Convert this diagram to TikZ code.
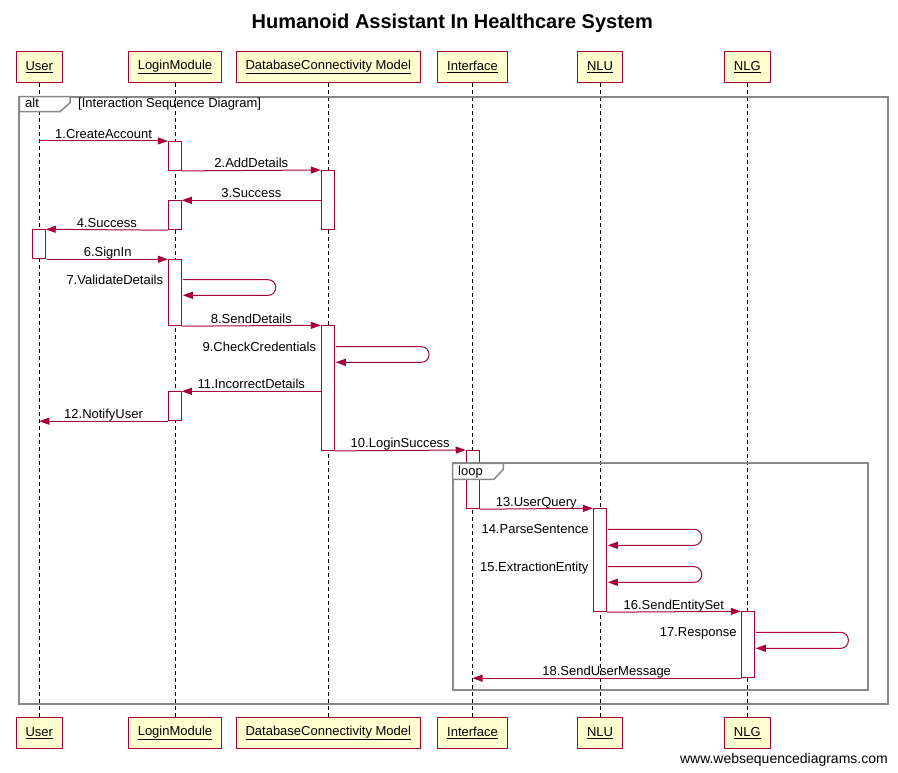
\documentclass[tikz,border=0pt]{standalone}
\usepackage{fontspec}
\setmainfont{Liberation Sans}
\usetikzlibrary{arrows.meta}
\definecolor{crim}{RGB}{168,0,54}
\definecolor{pfill}{RGB}{254,254,206}
\definecolor{frm}{RGB}{136,136,136}
\newcommand{\lf}{\fontsize{13}{15}\selectfont}
\begin{document}
\begin{tikzpicture}[x=1pt,y=-1pt,
 part/.style={draw=crim, fill=pfill, line width=0.9pt, minimum height=31pt, inner sep=0pt, font=\lf},
 act/.style={draw=crim, fill=white, line width=0.9pt, minimum width=13pt, inner sep=0pt, anchor=north},
 life/.style={black, line width=0.8pt, dash pattern=on 4pt off 3pt},
 msg/.style={crim, line width=1pt, -{Triangle[length=10pt,width=7pt]}},
 lbl/.style={anchor=base, yshift=2.7pt, font=\lf, text=black, inner sep=0pt},
 slbl/.style={anchor=base east, font=\lf, text=black, inner sep=0pt},
 frame/.style={draw=frm, line width=1.8pt},
 tab/.style={draw=frm, fill=white, line width=1.5pt},
 ftxt/.style={anchor=base west, font=\lf, inner sep=0pt}]
\path[use as bounding box] (0,0) rectangle (898,773);

% title
\node[anchor=base, font=\bfseries\fontsize{20}{24}\selectfont, inner sep=0pt] (title) at (452.3,28.3) {Humanoid Assistant In Healthcare System};

% participants
\node[part, minimum width=46pt]  (tU)  at (39.3,67.2)  {\underline{User}};
\node[part, minimum width=93.4pt] (tL) at (175,67.2)   {\underline{LoginModule}};
\node[part, minimum width=184pt] (tD)  at (328.3,67.2) {\underline{DatabaseConnectivity Model}};
\node[part, minimum width=70pt]  (tI)  at (472.5,67.2) {\underline{Interface}};
\node[part, minimum width=45pt]  (tNu) at (600,67.2)   {\underline{NLU}};
\node[part, minimum width=46pt]  (tNg) at (747.3,67.2) {\underline{NLG}};

\node[part, minimum width=46pt]  (bU)  at (39.3,732.8)  {\underline{User}};
\node[part, minimum width=93.4pt] (bL) at (175,732.8)   {\underline{LoginModule}};
\node[part, minimum width=184pt] (bD)  at (328.3,732.8) {\underline{DatabaseConnectivity Model}};
\node[part, minimum width=70pt]  (bI)  at (472.5,732.8) {\underline{Interface}};
\node[part, minimum width=45pt]  (bNu) at (600,732.8)   {\underline{NLU}};
\node[part, minimum width=46pt]  (bNg) at (747.3,732.8) {\underline{NLG}};

% lifelines
\draw[life] (tU) -- (bU);
\draw[life] (tL) -- (bL);
\draw[life] (tD) -- (bD);
\draw[life] (tI) -- (bI);
\draw[life] (tNu) -- (bNu);
\draw[life] (tNg) -- (bNg);

% activations
\node[act, minimum height=29pt] (aU1) at (38.8,229.3) {};
\node[act, minimum height=29pt] (aL1) at (174.8,141) {};
\node[act, minimum height=29pt] (aL2) at (174.8,200.3) {};
\node[act, minimum height=66pt] (aL3) at (174.8,259.3) {};
\node[act, minimum height=29pt] (aL4) at (174.8,391.3) {};
\node[act, minimum height=59.3pt] (aD1) at (327.8,170) {};
\node[act, minimum height=124.7pt] (aD2) at (327.8,325.3) {};
\node[act, minimum height=58.3pt] (aI) at (472.7,450) {};
\node[act, minimum height=103pt] (aNu) at (599.8,508.3) {};
\node[act, minimum height=66pt] (aNg) at (747.8,611.3) {};

% frames
\draw[frame] (19.3,96.7) rectangle (888.3,704);
\draw[tab] (19.3,96.7) -- (70,96.7) -- (70,102.7) -- (60,111.7) -- (19.3,111.7) -- cycle;
\node[ftxt] (altT) at (25,107.7) {alt};
\node[ftxt] (guard) at (78,107.7) {[Interaction Sequence Diagram]};

\draw[frame] (452.7,463.3) rectangle (868.3,690);
\draw[tab] (452.7,463.3) -- (503.3,463.3) -- (503.3,469.3) -- (494,479.3) -- (452.7,479.3) -- cycle;
\node[ftxt] (loopT) at (458,475) {loop};

% messages
\coordinate (m1s) at (39.3,141);
\draw[msg] (m1s) -- (aL1.north west) node[lbl, midway] {1.CreateAccount};
\draw[msg] (aL1.south east) -- (aD1.north west) node[lbl, midway] {2.AddDetails};
\draw[msg] (aD1.west |- aL2.north) -- (aL2.north east) node[lbl, midway] {3.Success};
\draw[msg] (aL2.south west) -- (aU1.north east) node[lbl, midway] {4.Success};
\draw[msg] ([xshift=1.7pt]aL3.north west -| aU1.east) -- (aL3.north west) node[lbl, midway] {6.SignIn};
\draw[msg, rounded corners=7.5pt] ([xshift=1pt]aL3.east |- 0,279.7) -- (275.7,279.7) -- (275.7,295.3) -- ([xshift=1pt]aL3.east |- 0,295.3);
\node[slbl] (t7) at (163.3,284) {7.ValidateDetails};
\draw[msg] (aL3.south east) -- (aD2.north west) node[lbl, midway] {8.SendDetails};
\draw[msg, rounded corners=7.5pt] ([xshift=1pt]aD2.east |- 0,346.7) -- (429,346.7) -- (429,362.3) -- ([xshift=1pt]aD2.east |- 0,362.3);
\node[slbl] (t9) at (316.3,351) {9.CheckCredentials};
\draw[msg] (aD2.west |- aL4.north) -- (aL4.north east) node[lbl, midway] {11.IncorrectDetails};
\draw[msg] (aL4.south west) -- (aL4.south west -| tU) node[lbl, midway] {12.NotifyUser};
\draw[msg] (aD2.south east) -- (aI.north west) node[lbl, midway] {10.LoginSuccess};
\draw[msg] (aI.south east) -- (aNu.north west) node[lbl, midway] {13.UserQuery};
\draw[msg, rounded corners=7.5pt] ([xshift=1pt]aNu.east |- 0,529.3) -- (701.7,529.3) -- (701.7,545.3) -- ([xshift=1pt]aNu.east |- 0,545.3);
\node[slbl] (t14) at (588.7,533.6) {14.ParseSentence};
\draw[msg, rounded corners=7.5pt] ([xshift=1pt]aNu.east |- 0,566.7) -- (701.7,566.7) -- (701.7,582.3) -- ([xshift=1pt]aNu.east |- 0,582.3);
\node[slbl] (t15) at (588.7,571) {15.ExtractionEntity};
\draw[msg] (aNu.south east) -- (aNg.north west) node[lbl, midway] {16.SendEntitySet};
\draw[msg, rounded corners=7.5pt] ([xshift=1pt]aNg.east |- 0,632.3) -- (848.3,632.3) -- (848.3,648.3) -- ([xshift=1pt]aNg.east |- 0,648.3);
\node[slbl] (t17) at (736.7,636.6) {17.Response};
\draw[msg] (aNg.south west) -- (aNg.south west -| tI) node[lbl, midway] {18.SendUserMessage};

% watermark
\node[anchor=base east, font=\fontsize{14}{16}\selectfont, inner sep=0pt] (wm) at (888,763.3) {www.websequencediagrams.com};
\end{tikzpicture}
\end{document}
